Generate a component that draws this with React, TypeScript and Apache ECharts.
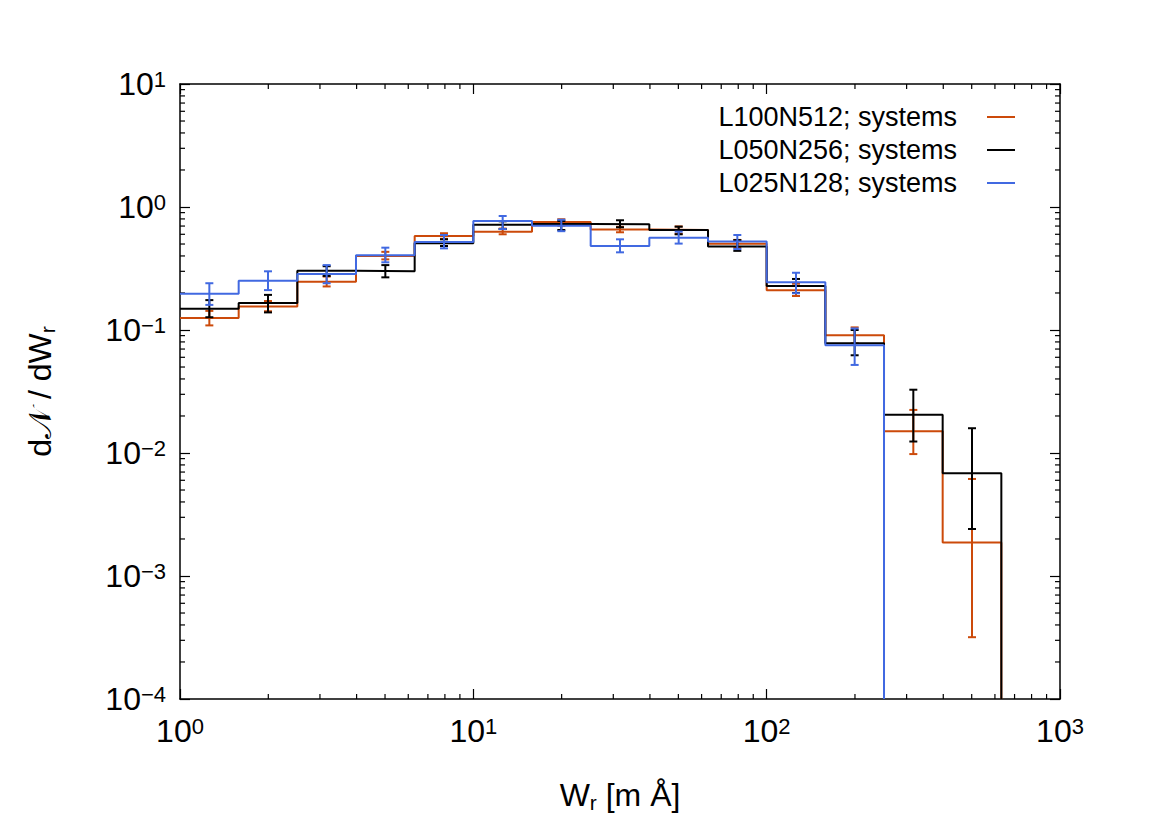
import React, { useEffect, useRef } from 'react';
import * as echarts from 'echarts';

// ---- data ----
const binEdges = [1, 1.585, 2.512, 3.981, 6.31, 10, 15.85, 25.12, 39.81, 63.1, 100, 158.5, 251.2, 398.1, 631];
const binCenters = [1.259, 1.995, 3.162, 5.012, 7.943, 12.59, 19.95, 31.62, 50.12, 79.43, 125.9, 199.5, 316.2, 501.2];

const seriesNames = ['L100N512; systems', 'L050N256; systems', 'L025N128; systems'];
const seriesColors = ['#cc4a0a', '#000000', '#4169e1'];

const l100Values = [0.125, 0.155, 0.247, 0.4, 0.581, 0.63, 0.755, 0.655, 0.65, 0.503, 0.21, 0.0905, 0.015, 0.00187];
const l100Low = [0.109, 0.142, 0.226, 0.375, 0.552, 0.6, 0.705, 0.623, 0.605, 0.468, 0.189, 0.078, 0.0098, 0.000318];
const l100High = [0.143, 0.172, 0.272, 0.432, 0.612, 0.668, 0.795, 0.69, 0.695, 0.54, 0.238, 0.105, 0.0224, 0.00615];

const l050Values = [0.149, 0.166, 0.303, 0.3, 0.507, 0.716, 0.727, 0.725, 0.65, 0.478, 0.228, 0.078, 0.0205, 0.00684];
const l050Low = [0.127, 0.139, 0.275, 0.268, 0.482, 0.662, 0.65, 0.684, 0.6, 0.44, 0.2, 0.0623, 0.0124, 0.00241];
const l050High = [0.175, 0.193, 0.33, 0.337, 0.546, 0.765, 0.77, 0.78, 0.692, 0.538, 0.26, 0.1, 0.0327, 0.0159];

const l025Values = [0.197, 0.252, 0.285, 0.406, 0.519, 0.77, 0.703, 0.482, 0.563, 0.523, 0.244, 0.075];
const l025Low = [0.16, 0.211, 0.24, 0.355, 0.461, 0.662, 0.636, 0.428, 0.504, 0.455, 0.199, 0.052];
const l025High = [0.24, 0.3, 0.337, 0.467, 0.592, 0.845, 0.788, 0.546, 0.63, 0.592, 0.292, 0.103];

const X_MIN = 1;
const X_MAX = 1000;
const Y_MIN = 1e-4;
const Y_MAX = 10;

const xDecades = [1, 10, 100];
const yDecades = [1e-4, 1e-3, 1e-2, 1e-1, 1];
const minorMultipliers = [2, 3, 4, 5, 6, 7, 8, 9];

const FONT = '"Liberation Sans", Arial, Helvetica, sans-serif';
const BIG = 32;
const SMALL = 22;

function stepData(values: number[]) {
  const pts: number[][] = [];
  values.forEach((v, i) => {
    pts.push([binEdges[i], v]);
    pts.push([binEdges[i + 1], v]);
  });
  pts.push([binEdges[values.length], Y_MIN]);
  return pts;
}

function errData(values: number[], low: number[], high: number[]) {
  return values.map((_, i) => [binCenters[i], low[i], high[i]]);
}

function expLabel(v: number) {
  const e = Math.round(Math.log10(v));
  const s = e < 0 ? '\u2212' + Math.abs(e) : String(e);
  return `{b|10}{s|${s}}`;
}

const tickRich = {
  b: { fontSize: BIG, fontFamily: FONT, color: '#000', lineHeight: BIG, verticalAlign: 'bottom', padding: [8, 0, 0, 0] },
  s: { fontSize: SMALL, fontFamily: FONT, color: '#000', lineHeight: SMALL, verticalAlign: 'top' },
};

const nameRich = {
  a: { fontSize: BIG, fontFamily: FONT, color: '#000', lineHeight: 34, verticalAlign: 'top' },
  r: { fontSize: SMALL - 1, fontFamily: FONT, color: '#000', lineHeight: SMALL - 1, verticalAlign: 'bottom', padding: [20, 0, 0, 0] },
};

export default function App() {
  const ref = useRef<HTMLDivElement>(null);
  useEffect(() => {
    if (!ref.current) return;
    const chart = echarts.init(ref.current, undefined, { renderer: 'svg' });

    const sets = [
      { v: l100Values, lo: l100Low, hi: l100High },
      { v: l050Values, lo: l050Low, hi: l050High },
      { v: l025Values, lo: l025Low, hi: l025High },
    ];

    const series: any[] = [];
    sets.forEach((s, k) => {
      const color = seriesColors[k];
      series.push({
        name: seriesNames[k],
        type: 'line',
        xAxisIndex: 0,
        yAxisIndex: 0,
        data: stepData(s.v),
        symbol: 'none',
        lineStyle: { color, width: 2 },
        itemStyle: { color },
        z: 3 + k,
      });
      series.push({
        name: seriesNames[k],
        type: 'custom',
        xAxisIndex: 0,
        yAxisIndex: 0,
        data: errData(s.v, s.lo, s.hi),
        encode: { x: 0, y: [1, 2] },
        itemStyle: { color },
        z: 3 + k,
        renderItem: (params: any, api: any) => {
          const x = api.value(0);
          const top = api.coord([x, api.value(2)]);
          const bot = api.coord([x, api.value(1)]);
          const cap = 4;
          const style = { stroke: color, lineWidth: 2, fill: 'none' };
          return {
            type: 'group',
            children: [
              { type: 'line', shape: { x1: top[0], y1: top[1], x2: bot[0], y2: bot[1] }, style },
              { type: 'line', shape: { x1: top[0] - cap, y1: top[1], x2: top[0] + cap, y2: top[1] }, style },
              { type: 'line', shape: { x1: bot[0] - cap, y1: bot[1], x2: bot[0] + cap, y2: bot[1] }, style },
            ],
          };
        },
      });
    });

    const xMinor: number[][] = [];
    xDecades.forEach((d) => minorMultipliers.forEach((m) => xMinor.push([d * m, 1])));
    const yMinor: number[][] = [];
    yDecades.forEach((d) => minorMultipliers.forEach((m) => yMinor.push([1, d * m])));
    const minorLen = 5;
    const tickStyle = { stroke: '#000', lineWidth: 1.2 };

    series.push({
      type: 'custom',
      silent: true,
      xAxisIndex: 0,
      yAxisIndex: 0,
      data: xMinor,
      encode: { x: 0, y: 1 },
      z: 1,
      renderItem: (params: any, api: any) => {
        const v = api.value(0);
        const b = api.coord([v, Y_MIN]);
        const t = api.coord([v, Y_MAX]);
        return {
          type: 'group',
          children: [
            { type: 'line', shape: { x1: b[0], y1: b[1], x2: b[0], y2: b[1] - minorLen }, style: tickStyle },
            { type: 'line', shape: { x1: t[0], y1: t[1], x2: t[0], y2: t[1] + minorLen }, style: tickStyle },
          ],
        };
      },
    });
    series.push({
      type: 'custom',
      silent: true,
      xAxisIndex: 0,
      yAxisIndex: 0,
      data: yMinor,
      encode: { x: 0, y: 1 },
      z: 1,
      renderItem: (params: any, api: any) => {
        const v = api.value(1);
        const l = api.coord([X_MIN, v]);
        const r = api.coord([X_MAX, v]);
        return {
          type: 'group',
          children: [
            { type: 'line', shape: { x1: l[0], y1: l[1], x2: l[0] + minorLen, y2: l[1] }, style: tickStyle },
            { type: 'line', shape: { x1: r[0], y1: r[1], x2: r[0] - minorLen, y2: r[1] }, style: tickStyle },
          ],
        };
      },
    });

    const axisLine = { show: true, onZero: false, lineStyle: { color: '#000', width: 1.5 } };
    const axisTick = { show: true, inside: true, length: 10, lineStyle: { color: '#000', width: 1.2 } };

    const option: any = {
      animation: false,
      backgroundColor: '#fff',
      grid: { left: 180, top: 84, right: 110, bottom: 128, containLabel: false },
      legend: {
        data: seriesNames.map((n) => ({ name: n, icon: 'rect' })),
        orient: 'vertical',
        right: 150,
        top: 97,
        align: 'right',
        itemWidth: 28,
        itemHeight: 2,
        itemGap: 3,
        selectedMode: false,
        textStyle: { fontSize: 27, fontFamily: FONT, color: '#000', lineHeight: 30, padding: [0, 25, 0, 0] },
      },
      xAxis: [
        {
          type: 'log',
          logBase: 10,
          min: X_MIN,
          max: X_MAX,
          position: 'bottom',
          axisLine,
          axisTick,
          splitLine: { show: false },
          axisLabel: { margin: 16, fontSize: BIG, fontFamily: FONT, color: '#000', formatter: (v: number) => expLabel(v), rich: tickRich },
          name: '{a|W}{r|r}{a| [m \u00C5]}',
          nameLocation: 'middle',
          nameGap: 80,
          nameTextStyle: { fontSize: BIG, fontFamily: FONT, color: '#000', rich: nameRich },
        },
        {
          type: 'log',
          logBase: 10,
          min: X_MIN,
          max: X_MAX,
          position: 'top',
          axisLine,
          axisTick,
          axisLabel: { show: false },
          splitLine: { show: false },
        },
      ],
      yAxis: [
        {
          type: 'log',
          logBase: 10,
          min: Y_MIN,
          max: Y_MAX,
          position: 'left',
          axisLine,
          axisTick,
          splitLine: { show: false },
          axisLabel: { margin: 14, fontSize: BIG, fontFamily: FONT, color: '#000', formatter: (v: number) => expLabel(v), rich: tickRich },
          name: '{a|d\uD835\uDCA9 / dW}{r|r}',
          nameLocation: 'middle',
          nameRotate: 90,
          nameGap: 122,
          nameTextStyle: { fontSize: BIG, fontFamily: FONT, color: '#000', rich: nameRich },
        },
        {
          type: 'log',
          logBase: 10,
          min: Y_MIN,
          max: Y_MAX,
          position: 'right',
          axisLine,
          axisTick,
          axisLabel: { show: false },
          splitLine: { show: false },
        },
      ],
      series,
    };
    chart.setOption(option);
    return () => chart.dispose();
  }, []);

  return <div ref={ref} style={{ position: 'fixed', left: 0, top: 0, width: 1170, height: 827, background: '#fff' }} />;
}
